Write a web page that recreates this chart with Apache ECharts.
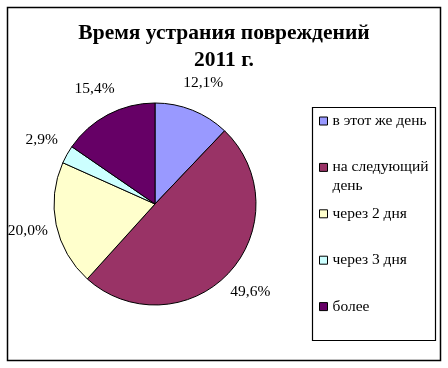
<!DOCTYPE html>
<html><head><meta charset="utf-8">
<script src="https://cdn.jsdelivr.net/npm/echarts@6/dist/echarts.min.js"></script>
<style>html,body{margin:0;padding:0;background:#fff}#c{width:448px;height:368px}</style>
</head><body><div id="c"></div>
<script>
const categories = ['в этот же день', 'на следующий день', 'через 2 дня', 'через 3 дня', 'более'];
const values = [12.1, 49.6, 20.0, 2.9, 15.4];
const colors = ['#9999FF', '#993366', '#FFFFCC', '#CCFFFF', '#660066'];
const titleText = 'Время устрания повреждений\n2011 г.';

const SERIF = '"Liberation Serif", "Times New Roman", serif';
const chart = echarts.init(document.getElementById('c'), null, {renderer: 'canvas'});
const data = categories.map((n, i) => ({name: n, value: values[i], itemStyle: {color: colors[i]}}));
const fmtPct = p => p.value.toFixed(1).replace('.', ',') + '%';

function wrap(name) {
  if (name.length <= 14) return [name];
  const w = name.split(' ');
  const last = w.pop();
  return [w.join(' '), last];
}
const LH = 19;
const legends = categories.map((n, i) => {
  const lines = wrap(n);
  const firstCenter = 121 + 46.4 * i;
  return {
    data: [n],
    orient: 'vertical',
    left: 319,
    top: firstCenter - (lines.length > 1 ? 1.5 * LH : 0.5 * LH),
    padding: 0,
    icon: 'rect', itemWidth: 8, itemHeight: 8, itemGap: 0,
    itemStyle: {borderColor: '#000', borderWidth: 1},
    selectedMode: false,
    formatter: name => { const l = wrap(name); return l.length > 1 ? '\n' + l.join('\n') : name; },
    textStyle: {fontFamily: SERIF, fontSize: 15.5, color: '#000', lineHeight: LH}
  };
});

chart.setOption({
  animation: false,
  backgroundColor: '#fff',
  title: {
    text: titleText, left: 'center', top: 20, padding: 0,
    textStyle: {fontFamily: SERIF, fontWeight: 'bold', fontSize: 21.5, color: '#000', lineHeight: 27}
  },
  legend: legends,
  graphic: [
    {type: 'rect', shape: {x: 7.5, y: 7.5, width: 433, height: 353}, style: {fill: 'none', stroke: '#000', lineWidth: 1.5}, z: 0},
    {type: 'rect', shape: {x: 312.5, y: 107.5, width: 123, height: 233}, style: {fill: 'none', stroke: '#000', lineWidth: 1.2}, z: 0}
  ],
  series: [
    {
      type: 'pie', center: [155, 204], radius: [0, 101], startAngle: 90, clockwise: true,
      data: data, silent: true,
      itemStyle: {borderColor: '#000', borderWidth: 1},
      label: {show: false}, labelLine: {show: false},
      emphasis: {disabled: true}
    },
    {
      type: 'pie', center: [155, 204], radius: [101, 153], startAngle: 90, clockwise: true,
      data: data.map(d => ({name: d.name, value: d.value, itemStyle: {color: 'rgba(0,0,0,0)', borderWidth: 0}})),
      silent: true, legendHoverLink: false,
      label: {show: true, position: 'inside', formatter: fmtPct, fontFamily: SERIF, fontSize: 15.5, color: '#000'},
      labelLine: {show: false},
      emphasis: {disabled: true}
    }
  ]
});
</script></body></html>
